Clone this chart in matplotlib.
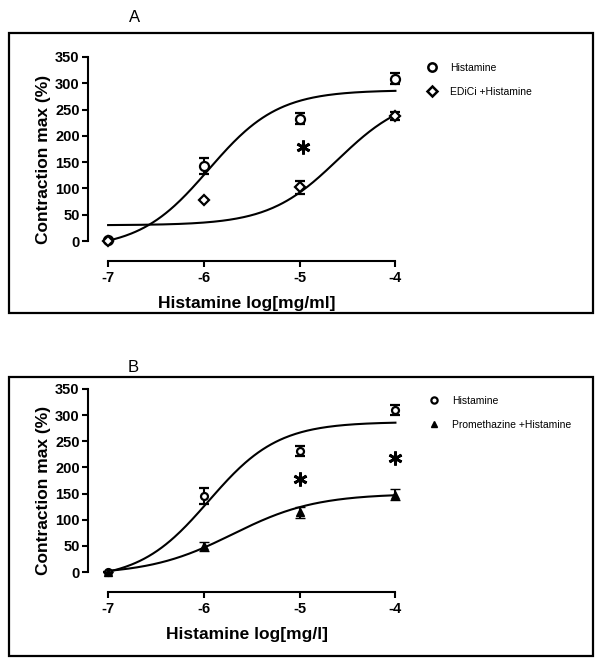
import numpy as np
import matplotlib
matplotlib.use('Agg')
import matplotlib.pyplot as plt
from matplotlib.patches import Rectangle
from matplotlib.lines import Line2D

plt.rcParams['font.family'] = ['Liberation Sans', 'DejaVu Sans']

# log dose
dose = [-7, -6, -5, -4]

# panel A
hist_a = [1, 143, 233, 309]
hist_a_err = [0, 15, 10, 10]
edici = [0, 78, 102, 238]
edici_err = [0, 0, 12, 8]
stars_a = [(-4.97, 178)]

# panel B
hist_b = [1, 145, 231, 310]
hist_b_err = [0, 15, 10, 10]
prom = [0, 49, 114, 148]
prom_err = [0, 8, 11, 10]
stars_b = [(-5.0, 178), (-4.0, 218)]

# sigmoid fit parameters (bottom, top, logEC50, hill)
fit_hist = (-15, 287, -5.95, 1.2)
fit_edici = (30, 280, -4.6, 1.2)
fit_prom = (-5, 150, -5.7, 1.0)

yticks = [0, 50, 100, 150, 200, 250, 300, 350]


def sigmoid(x, p):
    b, t, c, h = p
    return b + (t - b) / (1 + 10 ** ((c - x) * h))


fig = plt.figure(figsize=(6, 6.66), dpi=100)
W, H = 600, 666


def px_axes(l, r, top, bot):
    return fig.add_axes([l / W, 1 - bot / H, (r - l) / W, (bot - top) / H])


def style(ax, xlabel):
    ax.set_xlim(-7.21, -3.9)
    ax.set_ylim(-38, 350)
    ax.spines['top'].set_visible(False)
    ax.spines['right'].set_visible(False)
    ax.spines['left'].set_bounds(0, 350)
    ax.spines['bottom'].set_bounds(-7, -4)
    for s in ['left', 'bottom']:
        ax.spines[s].set_linewidth(1.5)
    ax.set_yticks(yticks)
    ax.set_xticks(dose)
    ax.set_xticklabels([str(d) for d in dose])
    ax.tick_params(width=1.5, length=4, labelsize=10.5, pad=2)
    ax.tick_params(axis='x', pad=3)
    for lab in ax.get_xticklabels() + ax.get_yticklabels():
        lab.set_fontweight('bold')
    ax.set_ylabel('Contraction max (%)', fontsize=12.5, fontweight='bold', labelpad=3)
    ax.set_xlabel(xlabel, fontsize=12.5, fontweight='bold', labelpad=8)
    ax.patch.set_alpha(0)


xs = np.linspace(-7, -4, 200)

# ---- panel A
axA = px_axes(88, 405, 57, 261)
style(axA, 'Histamine log[mg/ml]')
axA.plot(xs, sigmoid(xs, fit_hist), color='black', lw=1.5)
axA.plot(xs, sigmoid(xs, fit_edici), color='black', lw=1.5)
axA.errorbar(dose, hist_a, yerr=hist_a_err, fmt='o', ms=6.5, mfc='white', mec='black',
             mew=1.6, ecolor='black', elinewidth=1.5, capsize=3.5, capthick=1.5, clip_on=False, zorder=3)
axA.errorbar(dose, edici, yerr=edici_err, fmt='D', ms=5.5, mfc='white', mec='black',
             mew=1.6, ecolor='black', elinewidth=1.5, capsize=3.5, capthick=1.5, clip_on=False, zorder=3)
for sx, sy in stars_a:
    axA.plot(sx, sy, marker=(6, 2, 0), ms=10, mew=2, color='black')

axA.legend(handles=[Line2D([], [], ls='', marker='o', ms=6, mfc='white', mec='black', mew=1.8),
                    Line2D([], [], ls='', marker='D', ms=5, mfc='white', mec='black', mew=1.8)],
           labels=['Histamine', 'EDiCi +Histamine'], loc='upper left',
           bbox_to_anchor=(427 / W, 1 - 63 / H), bbox_transform=fig.transFigure,
           frameon=False, fontsize=7.5, handlelength=1, handletextpad=1.2, labelspacing=1.35,
           borderaxespad=0, borderpad=0)

fig.text(135 / W, 1 - 18 / H, 'A', fontsize=12, ha='center', va='center')
fig.add_artist(Rectangle((9 / W, 1 - 313 / H), 584 / W, 280 / H, transform=fig.transFigure,
                         fill=False, lw=1.6, ec='black'))

# ---- panel B
axB = px_axes(88, 405, 389, 592)
style(axB, 'Histamine log[mg/l]')
axB.plot(xs, sigmoid(xs, fit_hist), color='black', lw=1.5)
axB.plot(xs, sigmoid(xs, fit_prom), color='black', lw=1.5)
axB.errorbar(dose, hist_b, yerr=hist_b_err, fmt='o', ms=5, mfc='white', mec='black',
             mew=1.6, ecolor='black', elinewidth=1.5, capsize=3.5, capthick=1.5, clip_on=False, zorder=3)
axB.errorbar(dose, prom, yerr=prom_err, fmt='^', ms=5.5, mfc='black', mec='black',
             mew=1, ecolor='black', elinewidth=1.5, capsize=3.5, capthick=1.5, clip_on=False, zorder=3)
for sx, sy in stars_b:
    axB.plot(sx, sy, marker=(6, 2, 0), ms=10, mew=2, color='black')

axB.legend(handles=[Line2D([], [], ls='', marker='o', ms=4.5, mfc='white', mec='black', mew=1.6),
                    Line2D([], [], ls='', marker='^', ms=5, mfc='black', mec='black')],
           labels=['Histamine', 'Promethazine +Histamine'], loc='upper left',
           bbox_to_anchor=(429 / W, 1 - 396 / H), bbox_transform=fig.transFigure,
           frameon=False, fontsize=7.5, handlelength=1, handletextpad=1.2, labelspacing=1.35,
           borderaxespad=0, borderpad=0)

fig.text(133 / W, 1 - 367 / H, 'B', fontsize=12, ha='center', va='center')
fig.add_artist(Rectangle((9 / W, 1 - 656 / H), 584 / W, 279 / H, transform=fig.transFigure,
                         fill=False, lw=1.6, ec='black'))

fig.savefig('out.png', dpi=100)
